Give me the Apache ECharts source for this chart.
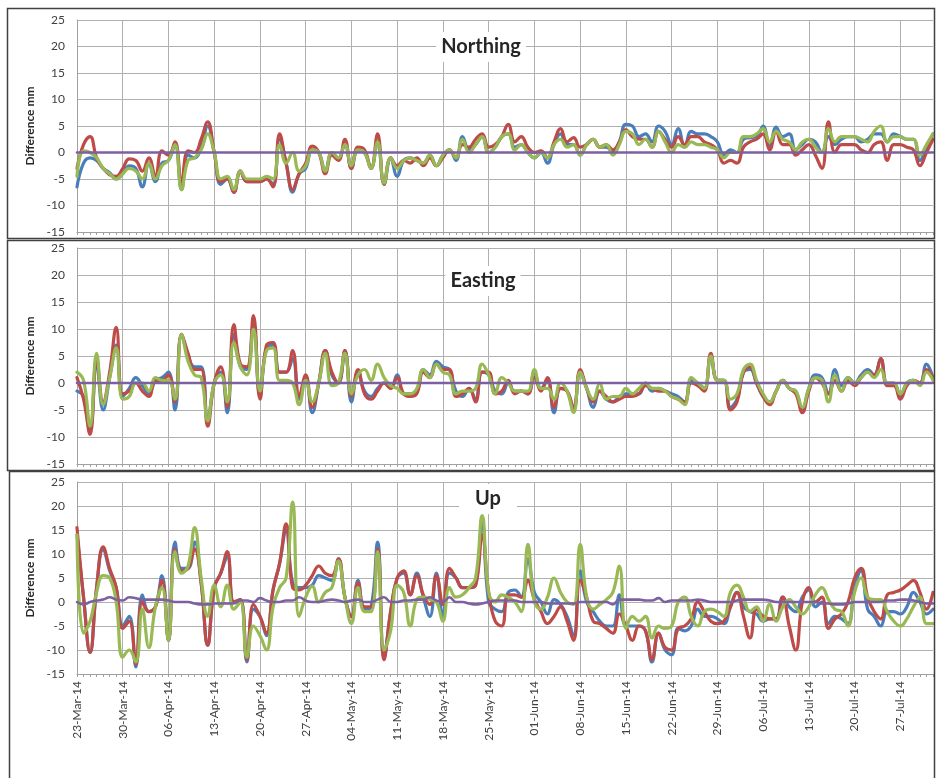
<!DOCTYPE html>
<html>
<head>
<meta charset="utf-8">
<script src="https://cdn.jsdelivr.net/npm/echarts@6/dist/echarts.min.js"></script>
<style>
html,body{margin:0;padding:0;background:#fff;}
#chart{width:936px;height:778px;}
</style>
</head>
<body>
<div id="chart"></div>
<script>
// ---------- categories ----------
const startYear = 2014, startMonth = 2, startDay = 23; // 23-Mar-14
const dayCount = 132;
const monthNames = ['Jan','Feb','Mar','Apr','May','Jun','Jul','Aug','Sep','Oct','Nov','Dec'];
const dates = [];
for (let i = 0; i < dayCount; i++) {
  const d = new Date(Date.UTC(startYear, startMonth, startDay + i));
  const dd = String(d.getUTCDate()).padStart(2, '0');
  dates.push(dd + '-' + monthNames[d.getUTCMonth()] + '-' + String(d.getUTCFullYear()).slice(2));
}
const labelEvery = 7;
const yMin = -15, yMax = 25, yStep = 5;
const panelTitles = ['Northing', 'Easting', 'Up'];
const yAxisName = 'Difference mm';

// ---------- Northing ----------
const nBlue = [-6.5,-2,-1,-1.5,-3,-3.8,-5,-4,-2.5,-3,
-6.5,-2,-5.5,-2,-1.5,1.5,-7,-0.5,-1,1,
5,0,-6,-5,-7.5,-3.5,-5.5,-5.5,-5.5,-5,
-6,2.5,-2,-7.5,-4,-3,0.5,0,-3.5,0,
-1,1.5,-3,0.5,0,-3,2,-6,-1,-4.5,
-1.5,-1,-1.5,-2,-0.5,-2.5,-0.5,0.5,-1.5,3,
0.5,1.5,3,0,1,3,3.5,1,1.5,0,
-1,0,-2,1.5,3.5,1.5,1.5,-0.5,1.5,2.5,
1,1,0,2,5.3,5,3,3.5,2,5,
4,1.5,4.5,1,4,3.5,3.5,3,2,-0.5,
0.5,0,2.5,2.8,3,5,1,4.8,3,3.5,
0.5,1.5,2.5,2,0,3,1.5,2.5,3,3,
2,2.5,3.5,3.5,2,3.5,3,2.5,2.5,-1.5,
1,3.5];
const nRed = [-3,1.5,3,-1,-3,-4.2,-4.5,-3,-1.2,-1.5,
-3.5,-1,-4.5,0.3,-0.5,2,-5.5,0.3,0,2.5,
5.8,0,-5.5,-5,-7.5,-3.5,-5.5,-5.5,-5.5,-5,
-6.5,3.5,-2,-7,-4,-2,1.2,0,-4,-0.5,
-1.5,2.5,-3,1,0.5,-3,3.5,-6,-1,-2.5,
-1.5,-2,-1,-2.5,-1,-2.5,-1,0.5,-1,1.5,
1,2.5,3.5,1,1.5,3,5.3,2,3,1,
0,0.3,-1,2,4.5,2,2.8,1,1.5,2.5,
1,1.5,0.5,2,4.3,3,2.5,2.5,1,4,
2.5,1,3,1.5,3,3,2,1.5,0.5,-2,
-1.5,-2,1,2,2.5,3.5,0.5,4,1.5,1.5,
-0.5,0.5,1.5,-0.5,-3,5.8,0,1.5,1.5,1.5,
0.5,0,1.5,2,-1.5,1.5,1.5,1,0.5,-2.5,
0,2.5];
const nGreen = [-4.5,0.3,0,-1,-3,-4,-5,-4,-3,-3.5,
-5,-2,-5,-2.5,-1.5,1.5,-7,-1.5,-1,0.5,
3.5,0,-5,-4.5,-7,-3.5,-5,-5,-5,-4.5,
-5,1.5,-2,0,-3.5,-2.5,0.5,0,-3.5,0,
-1,1.5,-2.5,0.5,0,-3,2,-5.8,-1,-3,
-1.5,-1,-1.5,-2,-0.5,-2.5,-0.5,0.5,-1,2.5,
0,1.5,3,0,1,3,3.5,0.5,1.5,0,
-1,0,-1,1.5,2.5,1,1.5,-0.5,1.5,2.5,
1,1.5,-0.5,1.5,4,3.5,1.5,2.5,1,4,
2,0,1.5,1,2,1.5,1.5,1,0.5,-1,
0,0,3,3,3.5,4.5,2,4,2.5,2,
0.5,2,2.5,1,0,4.5,2,3,3,3,
2.5,2,4,5,2,3,3,2.5,2.5,-0.5,
1.5,3.5];
const nPurple = [0,0,0,0,0,0,0,0,0,0,0,0,
0,0,0,0,0,0,0,0,0,0,0,0,
0,0,0,0,0,0,0,0,0,0,0,0,
0,0,0,0,0,0,0,0,0,0,0,0,
0,0,0,0,0,0,0,0,0,0,0,0,
0,0,0,0,0,0,0,0,0,0,0,0,
0,0,0,0,0,0,0,0,0,0,0,0,
0,0,0,0,0,0,0,0,0,0,0,0,
0,0,0,0,0,0,0,0,0,0,0,0,
0,0,0,0,0,0,0,0,0,0,0,0,
0,0,0,0,0,0,0,0,0,0,0,0];

// ---------- Easting ----------
const eBlue = [-1.5,-2.5,-8.5,3.5,-5,1,7,-2.5,-1,1,
-0.5,-2,0.5,1,2,-5,9,5,3,3,
-7,0,2,-5.5,9,3,2.5,11,-2.5,6.5,
7,2,2,4.5,-3,1,-5.5,0,6,1.5,
0,6,-3.5,2,-1.5,-2.5,-1,0,-1,1.5,
-2,-2,-1.5,2.5,1.5,4,3,2.5,-1.5,-2.5,
-1,-3,2,1.5,-1.5,-2,0,-1.5,-1.5,-2,
2,-1,0.5,-5.5,-1,-1.5,-5,2,-1,-4.5,
-1.5,-3,-3.5,-2.5,-2,-2,-2,0,-1.5,-1,
-1.5,-2,-2.5,-3.5,0.5,0,-1,5,0.5,0.5,
-4.5,-3,2,2.5,0,-2.5,-3.5,-1.5,0.5,-1,
-1.5,-5,-1,1.5,1,-2,2.5,-0.5,1,0,
1.5,2.5,1.5,4.5,0,0,-2.5,0,0.5,0,
3.5,1];
const eRed = [1,-3,-9.5,4.5,-3.5,2,10.3,-2,-1.5,0,
-1.5,-2.5,0.5,0.5,1.5,-3.5,9,5.5,2.5,2.5,
-8,0,3,-4.5,10.8,3.5,3,12.5,-3,7,
7.5,2,2,6,-2.5,1.5,-4.5,0,6,2,
0,6,-2.5,2.5,-2,-3,-1.5,0,-1,1,
-2,-2.5,-2,2,1,3.5,2.5,2.5,-2.5,-2,
-1,-3.5,2,2,-2,-1.5,0.5,-2,-1.5,-2,
1,-1.5,1,-4.5,-1,-1.5,-4.5,2.5,-1,-3.5,
-1.5,-2.5,-3.5,-3,-2.5,-2.5,-2,-0.5,-1,-1.5,
-1.5,-2.5,-3,-3.5,0,-0.5,-1.5,5.5,0.5,0.5,
-5,-3.5,2,3,0,-2.5,-4,-1.5,0.5,-1,
-2,-5.5,-1.5,1,0,-2,0.5,-1.5,0.5,-0.5,
1,2,1.5,4.5,-0.5,-0.5,-3,-0.5,0.5,0,
2.5,1];
const eGreen = [2,0.5,-8,5.5,-4,1,6.5,-3,-2.5,0,
0,-1.5,1,0.5,0.5,-3,9,4,1.5,1,
-7,0,1.5,-3.5,7.5,3,1.5,10,-1.5,6,
6.5,0.5,0.5,0,-4,0.5,-3.5,0,5.5,-0.5,
0,5.5,-2,1.5,2.5,0.5,3.5,1,-0.5,-1,
-2,-2,-1,2.5,1,3.5,2,1.5,-2,-1.5,
-1.5,-1,3.5,1.5,-2,1,0,-1.5,-1.5,-1.5,
2.5,-1,-1,-3,0,-1.5,-5.5,2,-1,-3,
0,-3,-2.5,-2.5,-1,-2,-1,0,-1,-1,
-1.5,-2.5,-3,-4,1,0,-1,5,0.5,0.5,
-3,-2,2.5,3.5,0.5,-2,-3.5,-1.5,0.5,-1,
-1.5,-4.5,-1,1,0.5,-3.5,1.5,-1.5,1,0,
1,2,1,2.5,0,0,-2,0,0.5,-0.5,
2,0.5];
const ePurple = [0,0,0,0,0,0,0,0,0,0,0,0,
0,0,0,0,0,0,0,0,0,0,0,0,
0,0,0,0,0,0,0,0,0,0,0,0,
0,0,0,0,0,0,0,0,0,0,0,0,
0,0,0,0,0,0,0,0,0,0,0,0,
0,0,0,0,0,0,0,0,0,0,0,0,
0,0,0,0,0,0,0,0,0,0,0,0,
0,0,0,0,0,0,0,0,0,0,0,0,
0,0,0,0,0,0,0,0,0,0,0,0,
0,0,0,0,0,0,0,0,0,0,0,0,
0,0,0,0,0,0,0,0,0,0,0,0];

// ---------- Up ----------
const uBlue = [14,1,-10.5,3,11,6.5,3,-5,-3,-13.5,
1.5,-2,-1,5.5,-8,12.5,7,7,12.5,4,
-9,3,6,9.5,0,0.5,-12.5,-1.5,-3,-7,
2.5,8,15,4,3,3,3.5,5.5,5,4.5,
9,1,-3,4.5,-1.5,-1,12.5,-11.5,-2,5,
6,1.5,6,1,-3,6,-3,6,5,3,
3,3.5,16.5,0,-1.5,-2,2,2.5,1,9,
2,0,-2.5,0.5,-0.5,-3,-7,6.5,0,-2,
-4,-5,-5,1.5,-5,-5,-5,-6,-12.5,-6.5,
-10,-11,-5.5,-6,-5,-1.5,-3,-3,-3.5,-4.5,
-1,2,-1,-2,-2.5,-4,-3.5,-3.5,1,-1,
-2,1,2.5,-1,0,-4.5,-3,-3.5,-4.5,3,
6.5,-1.5,-3,-5,-2,-2,-2.5,-1,2,0,
-2.5,-1.5];
const uRed = [15.5,1,-10.5,3,11.5,7,3,-5.5,-4,-13,
0,-2,-1,4.5,-8,11,6.5,7,11,4,
-9,3,6,10.5,0,0.5,-12,-0.5,-3,-6.5,
2.5,8,16.3,3,2.5,3.5,5.5,7.5,6,5.5,
9,1,-3,4,-1,-1,11,-12,-2,5,
6.5,1.5,5.5,1.5,-0.5,5.5,-0.5,7,5,3,
3,3.5,14,2,-4,-5,1.5,1.5,1,4.5,
0.5,-2,-4.5,-3,-1,-4,-8,4.5,1,-4,
-4.5,-5.5,-6.5,-2.5,-5,-8,-5,-6,-12,-6.5,
-9.5,-10,-5.5,-5,-3.5,0,-2,-4,-4.5,-4,
-1,2,-3,-7.5,-1.5,-3,-3.5,-3.5,1,-5,
-10,0,3,0,1,-5.5,-3.5,-2.5,0,5,
7,1,-2,-3.5,1.5,2,2.5,3.5,4.5,2,
-1.5,2];
const uGreen = [14,-6.5,-4,2,5.5,5,0,-11.5,-10,-12.5,
-1.5,-9.5,-1,3,-8,10.5,6,7.5,15.5,5,
-3,3.5,-1,3.5,-1.5,0,-11.5,-5,-7,-10,
-1,3,5,20.8,-3,1,3.3,0,2,3,
8.5,1,-4.5,3,-2,-2,10.5,-10,-6,3.5,
2,-5,0.5,1,0.5,0,-4,3,1,1.5,
3,5,18,2,0,1.5,1,0,-2,12,
0,-1.5,1,5,2,0,-0.5,12,1,-1.5,
-0.5,0.5,2,7.5,-5.5,-3,-4,-3,-7.5,-5,
-5.5,-5,0,1,-3,-5,-2,-1.5,-2,-3,
2,3.5,1,-2,-1,-4,-0.5,-4,-1,0.5,
-1,-2.5,-1,1.5,3,0.5,-1.5,-2,-5,2,
5,1,0.5,0.5,-2,-4,-5,-3.5,-1,1,
-4.5,-4.5];
const uPurple = [0,-0.5,0,0.3,0.5,1,0.5,0.3,1,0.8,
0.5,0.5,0.5,0.5,0.3,0,0,0,-0.3,-0.5,
-0.5,-0.3,-0.3,-0.3,-0.3,0.3,0.3,0,0.8,0.3,
0,0,0.3,0.3,1,0.3,0,0,0.3,0.5,
0.3,0,0.3,0.5,0,0,0.5,1,0,0,
0.3,0.3,0.5,0.5,1,0.3,0,1,0,0,
-0.3,-0.5,-0.3,0,0.3,0.3,0.3,0.3,0,0,
0,0,-0.3,-0.3,-0.3,-0.3,-0.3,0,0,0,
0,0,-0.5,0.5,0.5,0.5,0.5,0.3,0.3,0.8,
0,0.3,0.3,0.3,0.3,0.5,0.3,0,0,0,
0,0.3,0.5,0.5,0.5,0.5,0.3,0,0,0,
0,0,0,0,-0.3,-0.3,-0.5,-0.5,-0.3,0,
0,0,0,0,0.3,0.3,0.5,0.5,0.3,0,
-0.3,-0.3];

const panelData = [
  [nBlue, nRed, nGreen, nPurple],
  [eBlue, eRed, eGreen, ePurple],
  [uBlue, uRed, uGreen, uPurple]
];

// ---------- layout / style ----------
const colors = ['#4A7EBB', '#BE4B48', '#98B954', '#7D60A0'];
const widths = [3.2, 3.2, 3.2, 2.6];
const grids = [
  {left: 77, right: 3, top: 20, height: 212},
  {left: 77, right: 3, top: 248, height: 216},
  {left: 77, right: 3, top: 482, height: 192}
];
const titlePos = [[481, 47], [483, 281], [488, 499]];
const font = 'Lato, "Open Sans", sans-serif';
const gridColor = '#b0b0b0';

const xAxes = [], yAxes = [], series = [];
for (let i = 0; i < 3; i++) {
  xAxes.push({
    type: 'category', gridIndex: i, data: dates, boundaryGap: false,
    axisLine: {show: true, onZero: false, lineStyle: {color: '#a0a0a0', width: 1}},
    axisTick: {show: true, interval: 0, length: 3, lineStyle: {color: '#a0a0a0'}},
    axisLabel: {show: i === 2, interval: labelEvery - 1, rotate: 90, fontSize: 12,
      color: '#404040', margin: 7, fontFamily: font},
    splitLine: {show: true, interval: labelEvery - 1, lineStyle: {color: gridColor, width: 1}}
  });
  yAxes.push({
    type: 'value', gridIndex: i, min: yMin, max: yMax, interval: yStep,
    axisLine: {show: true, lineStyle: {color: '#a0a0a0'}},
    axisTick: {show: false},
    axisLabel: {fontSize: 12, color: '#404040', margin: 12, fontFamily: font},
    splitLine: {show: true, lineStyle: {color: gridColor, width: 1}},
    name: yAxisName, nameLocation: 'middle', nameGap: 34,
    nameTextStyle: {fontWeight: 'bold', fontSize: 12, color: '#262626', fontFamily: font}
  });
  panelData[i].forEach((arr, k) => {
    series.push({
      type: 'line', xAxisIndex: i, yAxisIndex: i, data: arr,
      smooth: 0.45, showSymbol: false, symbol: 'none',
      lineStyle: {color: colors[k], width: widths[k], cap: 'round', join: 'round'},
      itemStyle: {color: colors[k]},
      z: 2 + k
    });
  });
}

const graphics = [
  {type: 'rect', shape: {x: 7.5, y: 8.5, width: 927, height: 230}, style: {fill: 'none', stroke: '#404040', lineWidth: 1.5}, silent: true, z: 100},
  {type: 'rect', shape: {x: 7.5, y: 240.5, width: 927, height: 230}, style: {fill: 'none', stroke: '#404040', lineWidth: 1.5}, silent: true, z: 100},
  {type: 'rect', shape: {x: 9.5, y: 471.5, width: 925, height: 330}, style: {fill: 'none', stroke: '#404040', lineWidth: 1.5}, silent: true, z: 100}
];
panelTitles.forEach((t, i) => {
  graphics.push({
    type: 'text', x: titlePos[i][0], y: titlePos[i][1], z: 100, silent: true,
    style: {text: t, font: 'bold 20px ' + font, fill: '#262626', align: 'center',
      verticalAlign: 'middle', backgroundColor: '#fff', padding: i === 2 ? [5, 16] : [5, 5]}
  });
});

const chart = echarts.init(document.getElementById('chart'), null, {renderer: 'canvas'});
chart.setOption({
  animation: false,
  backgroundColor: '#fff',
  grid: grids,
  xAxis: xAxes,
  yAxis: yAxes,
  series: series,
  graphic: graphics
});
</script>
</body>
</html>
